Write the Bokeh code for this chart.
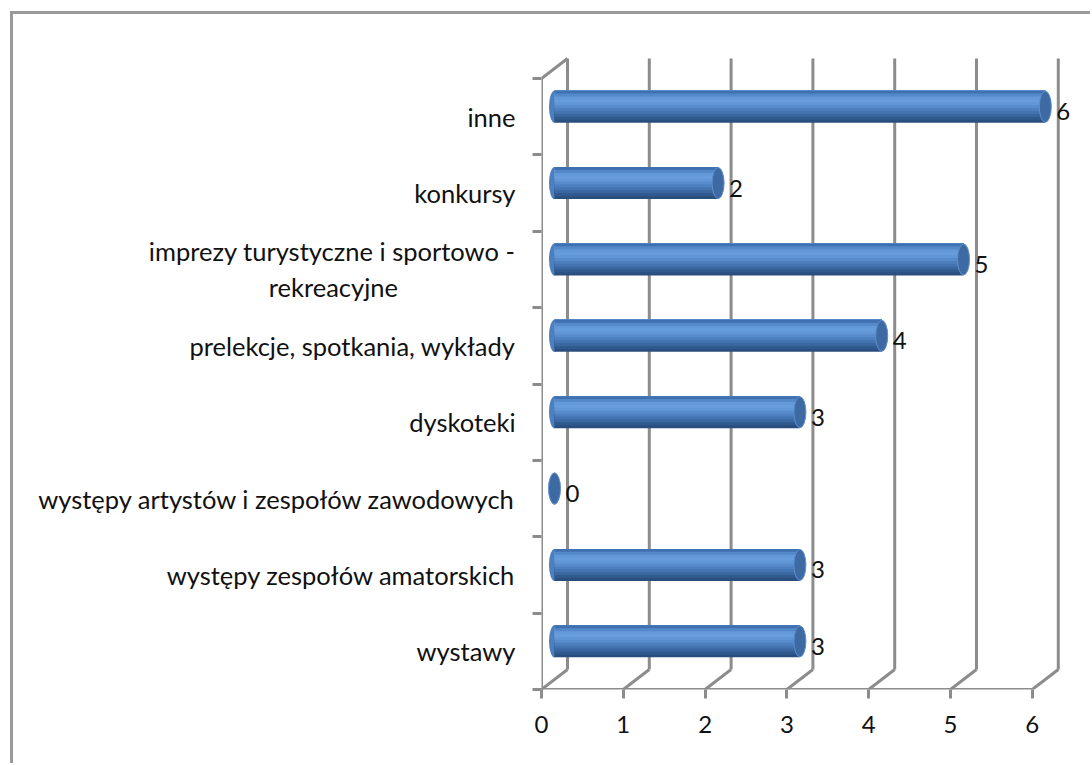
from bokeh.plotting import figure
from bokeh.models import FixedTicker, Range1d
from bokeh.embed import file_html
from bokeh.resources import INLINE
from bokeh.core.properties import value

# ---- data ----
NB = "\u00a0"
categories = [
    "wystawy",
    "występy zespołów amatorskich",
    "występy artystów i zespołów zawodowych",
    "dyskoteki",
    "prelekcje, spotkania, wykłady",
    "imprezy turystyczne i sportowo -\nrekreacyjne" + NB * 18,
    "konkursy",
    "inne",
]
values = [3, 3, 0, 3, 4, 5, 2, 6]
x_ticks = [0, 1, 2, 3, 4, 5, 6]

FONT = "Lato"
GRAY = "#8c8c8c"
TXT = "#111111"

# layout geometry (pixels)
W, H = 1090, 763
ML, MT = 541, 45
MB = H - 689
MR = W - 1076
fw = W - ML - MR
fh = H - MT - MB
px_x = 81.8      # pixels per x unit
px_y = 76.375    # pixels per category
x_end = fw / px_x
y_end = fh / px_y
DX = 26 / px_x   # depth offset (3-D look)
DY = 20 / px_y

n = len(categories)

p = figure(width=W, height=H, output_backend="svg", toolbar_location=None,
           x_range=Range1d(0, x_end), y_range=Range1d(0, y_end),
           min_border_left=ML, min_border_right=MR, min_border_top=MT,
           min_border_bottom=MB)
p.outline_line_color = None
p.grid.visible = False
p.background_fill_color = "white"
p.border_fill_color = None
p.styles = {"box-shadow": "inset 10px 11px 0 0 #ffffff, inset 13px 14px 0 0 #9a9a9a"}

# ---- axes ----
xa = p.xaxis[0]
xa.ticker = FixedTicker(ticks=x_ticks, minor_ticks=[])
xa.axis_line_color = None
xa.major_tick_out = 9
xa.major_tick_in = 0
xa.major_tick_line_color = GRAY
xa.major_tick_line_width = 3
xa.major_label_standoff = 17
xa.major_label_text_font = FONT
xa.major_label_text_font_size = "24px"
xa.major_label_text_color = TXT

ya = p.yaxis[0]
centers = [i + 0.5 for i in range(n)]
ya.ticker = FixedTicker(ticks=centers, minor_ticks=list(range(n + 1)))
ya.major_label_overrides = {c: lab for c, lab in zip(centers, categories)}
ya.axis_line_color = None
ya.major_tick_out = 0
ya.major_tick_in = 0
ya.minor_tick_out = 9
ya.minor_tick_in = 0
ya.minor_tick_line_color = GRAY
ya.minor_tick_line_width = 3
ya.major_label_standoff = 17
ya.major_label_text_font = FONT
ya.major_label_text_font_size = "25.5px"
ya.major_label_text_color = TXT

# ---- walls / grid ----
xmax = x_ticks[-1]
seg_x0, seg_y0, seg_x1, seg_y1 = [], [], [], []
for t in x_ticks:
    seg_x0.append(t + DX); seg_y0.append(DY); seg_x1.append(t + DX); seg_y1.append(n + DY)
    seg_x0.append(t); seg_y0.append(0); seg_x1.append(t + DX); seg_y1.append(DY)
seg_x0 += [0, 0, 0]
seg_y0 += [0, 0, n]
seg_x1 += [xmax, 0, DX]
seg_y1 += [0, n, n + DY]
p.segment(seg_x0, seg_y0, seg_x1, seg_y1, line_color=GRAY, line_width=3)

# ---- cylinders ----
BH = 32 / px_y
yc = [c + DY / 2 for c in centers]
x_start = DX / 2
x_stop = [v + DX / 2 for v in values]

p.ellipse(x=[x_start] * n, y=yc, width=11, height=32, width_units="screen",
          height_units="screen", fill_color="#4b7fbf", line_color=None)

# shading from top to bottom; drawn cumulatively (bottom first) to avoid seams
shades = ["#3f71b0", "#5489c9", "#6399d8", "#679ddc", "#6197d6", "#588bcb",
          "#4d7fbe", "#4373b0", "#3a67a0", "#30598d", "#2a4f7f"]
ns = len(shades)
for k in range(ns - 1, -1, -1):
    h = BH * (k + 1) / ns          # covers from top edge down to bottom of strip k
    off = BH / 2 - h / 2
    p.hbar(y=[y + off for y in yc], left=[x_start] * n, right=x_stop,
           height=h, fill_color=shades[k], line_color=None)

p.ellipse(x=x_stop, y=yc, width=12, height=31, width_units="screen",
          height_units="screen", fill_color="#3d6aa3", line_color="#5f8fcb",
          line_width=1)

p.text(x=x_stop, y=yc, text=[str(v) for v in values], x_offset=11, y_offset=5,
       text_align="left", text_baseline="middle", text_font=value(FONT),
       text_font_size="24px", text_color=TXT)

open("out.html", "w").write(file_html(p, INLINE))
